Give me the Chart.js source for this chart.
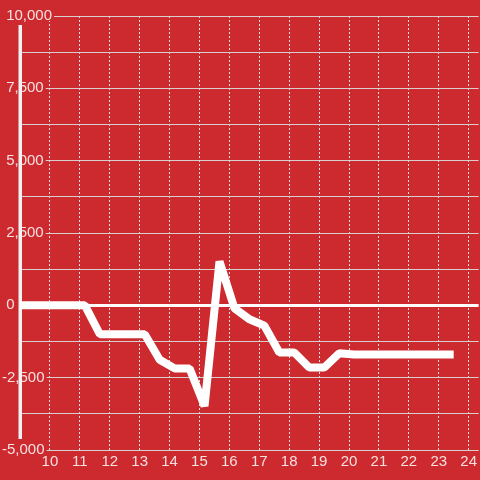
<!DOCTYPE html>
<html>
<head>
<meta charset="utf-8">
<script src="https://cdn.jsdelivr.net/npm/chart.js@4"></script>
<style>
    html, body { margin: 0; padding: 0; background: #cc2a2e; }
    canvas { display: block; }
</style>
</head>
<body>
<canvas id="grafico" width="480" height="480"></canvas>
<script>
// horas e valores
const horas = [9, 11.17, 11.67, 12.17, 12.67, 13.17, 13.67, 14.17, 14.67, 15.17, 15.67, 16.17, 16.67, 17.17, 17.67, 18.17, 18.67, 19.17, 19.67, 20.17, 20.67, 21.17, 21.67, 22.17, 22.67, 23.17, 23.5];
const valores = [0, 0, -1000, -1000, -1000, -1000, -1880, -2180, -2180, -3480, 1520, -100, -480, -700, -1630, -1630, -2150, -2150, -1660, -1700, -1700, -1700, -1700, -1700, -1700, -1700, -1700];
const horasTicks = [10, 11, 12, 13, 14, 15, 16, 17, 18, 19, 20, 21, 22, 23, 24];

const fundo = "#cc2a2e";
const corTexto = "rgba(255,255,255,0.85)";

Chart.defaults.font.size = 15;
Chart.defaults.color = corTexto;

// barra vertical do eixo y (um pouco mais curta que a area)
const barraEixo = {
    id: "barraEixo",
    beforeDatasetsDraw(chart) {
        const { ctx, chartArea } = chart;
        ctx.save();
        ctx.fillStyle = "#f2f2f2";
        ctx.fillRect(chartArea.left - 1.5, chartArea.top + 9, 3.5, chartArea.bottom - chartArea.top - 20);
        ctx.restore();
    }
};

const pontos = horas.map((h, i) => ({ x: h, y: valores[i] }));

new Chart(document.getElementById("grafico"), {
    type: "line",
    data: {
        datasets: [{
            data: pontos,
            borderColor: "#ffffff",
            borderWidth: 8,
            borderJoinStyle: "bevel",
            pointRadius: 0,
            tension: 0,
            fill: false
        }]
    },
    options: {
        responsive: false,
        animation: false,
        layout: { padding: { left: 2, top: 16, right: 0, bottom: 6 } },
        plugins: { legend: { display: false }, tooltip: { enabled: false } },
        scales: {
            x: {
                type: "linear",
                min: 9,
                max: 24.333,
                afterBuildTicks: (scale) => {
                    scale.ticks = horasTicks.map((v) => ({ value: v }));
                },
                grid: { color: "rgba(255,255,255,0.85)", lineWidth: 1, drawTicks: false },
                border: { display: false, dash: [2, 2] },
                ticks: { padding: 3, color: corTexto, maxRotation: 0 }
            },
            y: {
                min: -5000,
                max: 10000,
                afterFit: (scale) => { scale.width = 18; },
                grid: {
                    drawTicks: false,
                    color: (c) => (c.tick && c.tick.value === 0 ? "#ffffff" : "rgba(215,215,215,0.95)"),
                    lineWidth: (c) => (c.tick && c.tick.value === 0 ? 3 : 1)
                },
                border: { display: false },
                ticks: {
                    stepSize: 1250,
                    mirror: true,
                    padding: -18,
                    color: corTexto,
                    showLabelBackdrop: true,
                    backdropColor: fundo,
                    backdropPadding: { top: 2, bottom: -4, left: 2, right: 2 },
                    callback: (v) => {
                        if (v % 2500 !== 0) return "";
                        return (v < 0 ? "" : " ") + v.toLocaleString("en-US");
                    }
                }
            }
        }
    },
    plugins: [barraEixo]
});
</script>
</body>
</html>
